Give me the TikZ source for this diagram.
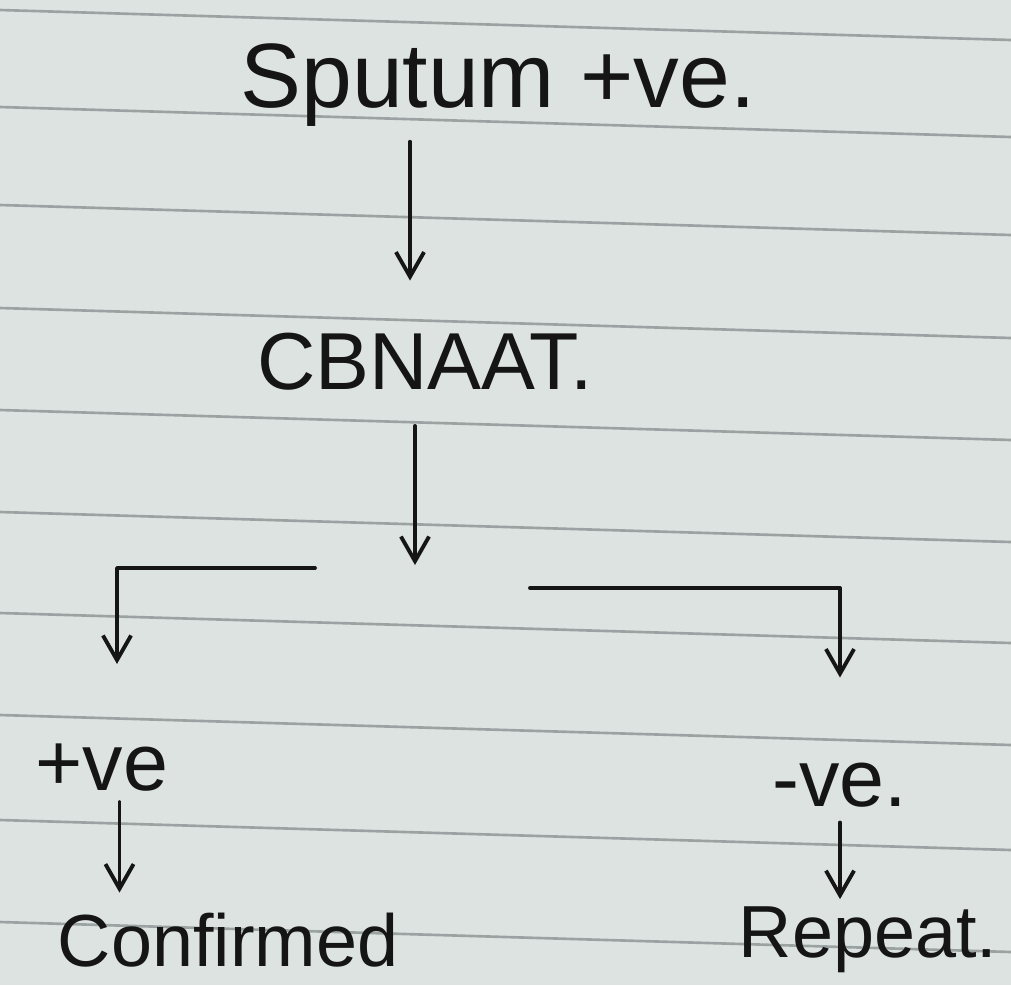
\documentclass[tikz,border=0pt]{standalone}
\usepackage{fontspec}
\setmainfont{Liberation Sans}
\usetikzlibrary{arrows.meta}
\definecolor{paper}{HTML}{DDE3E1}
\definecolor{rulecol}{HTML}{9AA2A2}
\definecolor{ink}{HTML}{151515}
\begin{document}
\begin{tikzpicture}[x=0.02cm,y=-0.02cm,
  hand/.style={font=\fontsize{46}{50}\selectfont, text=ink, inner sep=0pt},
  big/.style={hand, font=\fontsize{52}{56}\selectfont},
  small/.style={hand, font=\fontsize{42}{46}\selectfont},
  pen/.style={draw=ink, line width=2.2pt, line cap=round, line join=round},
  arr/.style={pen, -{Straight Barb[length=14pt,width=16pt,line width=2.2pt]}},
  ruling/.style={draw=rulecol, line width=1.5pt}]
\fill[paper] (0,0) rectangle (1011,985);
\useasboundingbox (0,0) rectangle (1011,985);
\foreach \y in {10,107,205,308,410,512,613,715,820,922}
  \draw[ruling] (0,\y) -- (1011,\y+30);

\node[big] (sputum) at (498,85) {Sputum +ve.};
\node[hand] (cbnaat) at (425,362) {CBNAAT.};
\node[hand] (pos) at (102,768) {+ve};
\node[hand] (neg) at (840,785) {-ve.};
\node[small] (conf) at (228,940) {Confirmed};
\node[small] (rep) at (868,940) {Repeat.};

\coordinate (split) at (415,565);
\coordinate (lend) at (315,568);
\coordinate (rstart) at (530,588);

\draw[arr, shorten <=0.3cm, shorten >=1.05cm] ([xshift=-0.3cm]sputum.south -| cbnaat.north) -- ([xshift=-0.3cm]cbnaat.north);
\draw[arr, shorten <=0.7cm] (cbnaat.south -| split) -- (split);
\draw[arr, shorten >=1.6cm] (lend) -| ([xshift=0.3cm]pos.north);
\draw[arr, shorten >=1.7cm] (rstart) -| (neg.north);
\draw[arr, shorten <=0.2cm, shorten >=0.4cm] ([xshift=0.35cm]pos.south) -- ([xshift=0.35cm]pos.south |- conf.north);
\draw[arr, shorten <=0.3cm, shorten >=0.15cm] (neg.south) -- (neg.south |- rep.north);
\end{tikzpicture}
\end{document}
